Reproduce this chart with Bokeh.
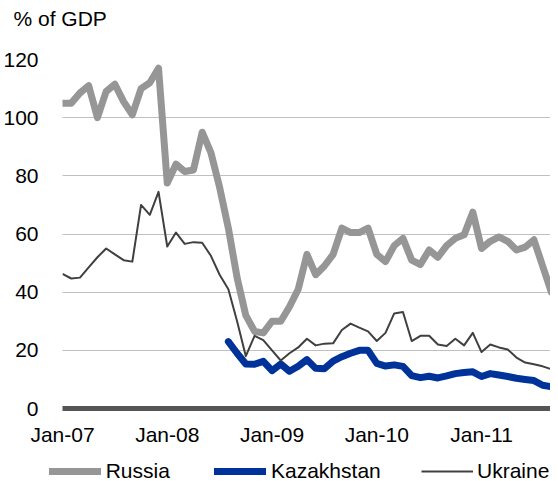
from bokeh.plotting import figure
from bokeh.layouts import column
from bokeh.models import Range1d, FixedTicker, Legend, LegendItem, Title
from bokeh.embed import file_html
from bokeh.resources import INLINE

# Monthly data, Jan-07 onwards (% of GDP)
tick_positions = [0, 12, 24, 36, 48]
tick_labels = ["Jan-07", "Jan-08", "Jan-09", "Jan-10", "Jan-11"]

russia = [105, 105, 108.5, 111, 100, 109, 111.5, 105.5, 101, 110, 112, 117,
          77.5, 84, 81.5, 82, 95, 88, 76, 62, 45, 32, 26.5, 26,
          30, 30, 35, 41, 53, 46, 49, 53, 62, 60.5, 60.5, 62,
          53, 50.5, 56, 58.5, 51, 49.5, 54.5, 52, 56, 58.5, 59.7, 67.5,
          55, 57.5, 59, 57.5, 54.5, 55.5, 58, 49, 40, 46]

ukraine = [46.3, 44.7, 45, 48.5, 52, 55, 53, 51, 50.5, 70, 66.6, 74.5,
           55.7, 60.5, 56.6, 57.2, 57, 52.5, 46, 41, 30, 18, 25, 23.5,
           20, 16.5, 19, 21, 24, 21.7, 22.3, 22.4, 27, 29.2, 27.8, 26.5,
           23.2, 26, 32.7, 33.2, 23.2, 25, 25, 22, 21.5, 24, 21.7, 26,
           19.4, 22, 21, 20.3, 17.5, 15.8, 15.2, 14.5, 13.5, 12.8]

kazakhstan_start = 19
kazakhstan = [23, 19, 15.3, 15.2, 16.2,
              13, 15.3, 12.8, 14.5, 16.8, 13.8, 13.7, 16.3, 17.8, 19, 20, 20,
              15.5, 14.6, 15, 14.5, 11.3, 10.6, 11.1, 10.5, 11.2, 12, 12.4, 12.6,
              11, 12, 11.5, 11, 10.4, 10, 9.6, 8, 7.5, 7.8]

series_names = ["Russia", "Kazakhstan", "Ukraine"]

x_all = list(range(len(russia)))
x_kaz = list(range(kazakhstan_start, kazakhstan_start + len(kazakhstan)))
series_xy = {"Russia": (x_all, russia), "Kazakhstan": (x_kaz, kazakhstan),
             "Ukraine": (x_all, ukraine)}

FONT = "Liberation Sans"
STYLES = {
    "Russia": dict(line_color="#969696", line_width=7, line_join="round", line_cap="round"),
    "Kazakhstan": dict(line_color="#003399", line_width=7, line_join="round", line_cap="round"),
    "Ukraine": dict(line_color="#404040", line_width=2, line_join="round"),
}

# ---------------- main chart ----------------
p = figure(width=550, height=448, output_backend="svg", toolbar_location=None,
           x_range=Range1d(0, 55.9), y_range=Range1d(0, 120),
           min_border_left=53, min_border_right=0, min_border_top=59,
           min_border_bottom=39, frame_align=False)
p.outline_line_color = None
p.background_fill_color = "white"
p.border_fill_color = "white"

p.title.text = "% of GDP"
p.title.align = "left"
p.title.offset = -49
p.title.standoff = 4
p.title.vertical_align = "bottom"
p.title.text_font = FONT
p.title.text_font_size = "21px"
p.title.text_font_style = "normal"
p.title.text_color = "black"
# blank spacer between the unit title and the plot area
p.add_layout(Title(text=" ", text_font_size="1px", standoff=25), "above")

for name in series_names:
    xs, ys = series_xy[name]
    p.line(xs, ys, **STYLES[name])

p.xaxis.ticker = FixedTicker(ticks=tick_positions)
p.xaxis.major_label_overrides = {t: l for t, l in zip(tick_positions, tick_labels)}
p.xaxis.axis_line_color = "#555555"
p.xaxis.axis_line_width = 5
p.xaxis.major_tick_line_color = None
p.xaxis.minor_tick_line_color = None
p.xaxis.major_label_standoff = 8
p.xaxis.major_label_text_font = FONT
p.xaxis.major_label_text_font_size = "21px"
p.xaxis.major_label_text_color = "black"

p.yaxis.ticker = FixedTicker(ticks=[0, 20, 40, 60, 80, 100, 120])
p.yaxis.axis_line_color = None
p.yaxis.major_tick_line_color = None
p.yaxis.minor_tick_line_color = None
p.yaxis.major_label_standoff = 18
p.yaxis.major_label_text_font = FONT
p.yaxis.major_label_text_font_size = "21px"
p.yaxis.major_label_text_color = "black"

p.xgrid.visible = False
p.ygrid.grid_line_color = "#808080"
p.ygrid.grid_line_dash = "1 1"
p.ygrid.grid_line_width = 1

# ---------------- legend strip ----------------
pl = figure(width=550, height=33, output_backend="svg", toolbar_location=None,
            x_range=Range1d(-1000, -999), y_range=Range1d(-1000, -999),
            x_axis_location=None, y_axis_location=None, min_border=0,
            frame_align=False)
pl.outline_line_color = None
pl.xgrid.visible = False
pl.ygrid.visible = False

legend_x = {"Russia": 48.7, "Kazakhstan": 214, "Ukraine": 421}
legend_glyph_w = {"Russia": 52, "Kazakhstan": 52, "Ukraine": 52}
legend_standoff = {"Russia": 5, "Kazakhstan": 5, "Ukraine": 4}
for name in series_names:
    xs, ys = series_xy[name]
    r = pl.line(xs, ys, **STYLES[name])
    pl.add_layout(Legend(items=[LegendItem(label=name, renderers=[r])],
                         location=(legend_x[name], -2), orientation="horizontal",
                         glyph_width=legend_glyph_w[name], glyph_height=24,
                         label_height=24, label_standoff=legend_standoff[name],
                         padding=0, margin=0, spacing=0,
                         border_line_color=None, background_fill_alpha=0,
                         label_text_font=FONT, label_text_font_size="21px",
                         label_text_color="black"))

layout = column(p, pl, spacing=0)
open("out.html", "w").write(file_html(layout, INLINE))
